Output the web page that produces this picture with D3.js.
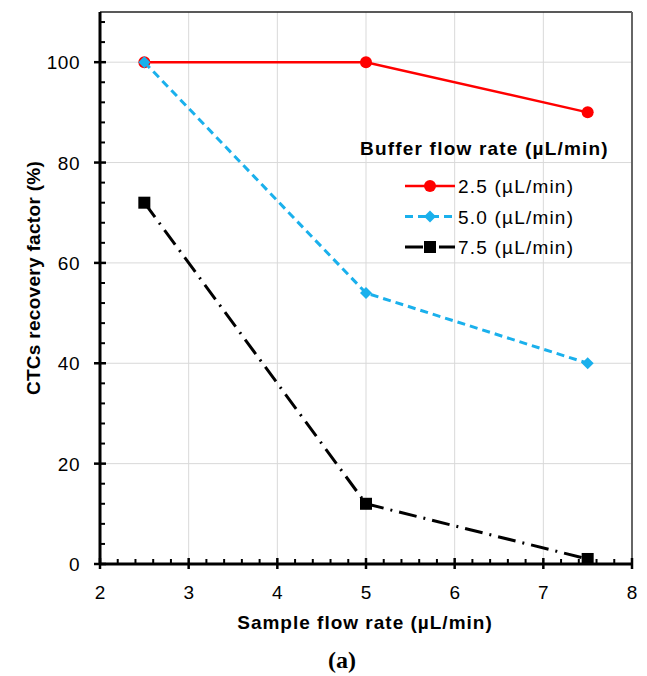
<!DOCTYPE html>
<html>
<head>
<meta charset="utf-8">
<script src="https://cdn.jsdelivr.net/npm/d3@7"></script>
<style>
  body { margin: 0; background: #fff; }
  text { font-family: Arial, "Liberation Sans", sans-serif; }
</style>
</head>
<body>
<div id="container"></div>
<script>
/* DATA */
const sampleFlow = [2.5, 5, 7.5]
const series = [
  { name: "2.5 (µL/min)", values: [100, 100, 90] },
  { name: "5.0 (µL/min)", values: [100, 54, 40] },
  { name: "7.5 (µL/min)", values: [72, 12, 1] }
]
const xTicks = [2, 3, 4, 5, 6, 7, 8]
const yTicks = [0, 20, 40, 60, 80, 100]

/* CONSTANTS */
const width = 647, height = 676
const margin = { top: 12, bottom: 112, left: 100, right: 15 }
const styles = [
  { color: "#ff0000", dash: null, width: 2.5, marker: "circle", size: 6 },
  { color: "#1ab0ec", dash: "8,5", width: 3, marker: "diamond", size: 6 },
  { color: "#000000", dash: "18,7,2,7", width: 3, marker: "square", size: 6 }
]

const svg = d3.select("#container")
  .append("svg")
  .attr("width", width)
  .attr("height", height)

// SCALES
const xScale = d3.scaleLinear()
  .domain([2, 8])
  .range([margin.left, width - margin.right])

const yScale = d3.scaleLinear()
  .domain([0, 110])
  .range([height - margin.bottom, margin.top])

// GRIDLINES
svg.append("g")
  .selectAll("line")
  .data(xTicks.slice(1, -1))
  .join("line")
  .attr("x1", d => xScale(d)).attr("x2", d => xScale(d))
  .attr("y1", yScale(0)).attr("y2", yScale(110))
  .attr("stroke", "#d9d9d9").attr("stroke-width", 1)

svg.append("g")
  .selectAll("line")
  .data(yTicks.slice(1))
  .join("line")
  .attr("x1", xScale(2)).attr("x2", xScale(8))
  .attr("y1", d => yScale(d)).attr("y2", d => yScale(d))
  .attr("stroke", "#d9d9d9").attr("stroke-width", 1)

// FRAME (top and right)
svg.append("line")
  .attr("x1", xScale(2)).attr("x2", xScale(8))
  .attr("y1", yScale(110)).attr("y2", yScale(110))
  .attr("stroke", "#222").attr("stroke-width", 1.5)
svg.append("line")
  .attr("x1", xScale(8)).attr("x2", xScale(8))
  .attr("y1", yScale(110)).attr("y2", yScale(0))
  .attr("stroke", "#666").attr("stroke-width", 2)

// AXES
const xMinor = d3.range(2, 8.001, 0.2).filter(v => Math.abs(v - Math.round(v)) > 0.01)
const yMinor = d3.range(0, 110.001, 4).filter(v => v % 20 !== 0)

const axisG = svg.append("g")
axisG.selectAll("line.xm")
  .data(xMinor)
  .join("line").attr("class", "xm")
  .attr("x1", d => xScale(d)).attr("x2", d => xScale(d))
  .attr("y1", yScale(0)).attr("y2", yScale(0) - 5)
  .attr("stroke", "#000").attr("stroke-width", 2)
axisG.selectAll("line.xM")
  .data(xTicks)
  .join("line").attr("class", "xM")
  .attr("x1", d => xScale(d)).attr("x2", d => xScale(d))
  .attr("y1", yScale(0) + 5).attr("y2", yScale(0) - 6)
  .attr("stroke", "#000").attr("stroke-width", 2.5)
axisG.selectAll("line.ym")
  .data(yMinor)
  .join("line").attr("class", "ym")
  .attr("x1", xScale(2)).attr("x2", xScale(2) + 5)
  .attr("y1", d => yScale(d)).attr("y2", d => yScale(d))
  .attr("stroke", "#000").attr("stroke-width", 2)
axisG.selectAll("line.yM")
  .data(yTicks)
  .join("line").attr("class", "yM")
  .attr("x1", xScale(2) - 6).attr("x2", xScale(2) + 6)
  .attr("y1", d => yScale(d)).attr("y2", d => yScale(d))
  .attr("stroke", "#000").attr("stroke-width", 2.5)

axisG.append("line")
  .attr("x1", xScale(2)).attr("x2", xScale(8))
  .attr("y1", yScale(0)).attr("y2", yScale(0))
  .attr("stroke", "#000").attr("stroke-width", 3)
axisG.append("line")
  .attr("x1", xScale(2)).attr("x2", xScale(2))
  .attr("y1", yScale(0)).attr("y2", yScale(110))
  .attr("stroke", "#000").attr("stroke-width", 3)

// TICK LABELS
axisG.selectAll("text.xl")
  .data(xTicks)
  .join("text").attr("class", "xl")
  .attr("x", d => xScale(d))
  .attr("y", yScale(0) + 35)
  .attr("text-anchor", "middle")
  .style("font-size", "19px")
  .text(d => d)
axisG.selectAll("text.yl")
  .data(yTicks)
  .join("text").attr("class", "yl")
  .attr("x", xScale(2) - 20)
  .attr("y", d => yScale(d) + 7)
  .attr("text-anchor", "end")
  .style("font-size", "19px")
  .style("letter-spacing", "0.5px")
  .text(d => d)

// LINES AND MARKERS
const lineGen = d3.line()
  .x(d => xScale(d[0]))
  .y(d => yScale(d[1]))

function drawMarker(g, type, color, x, y, s) {
  if (type === "circle") {
    g.append("circle").attr("cx", x).attr("cy", y).attr("r", s)
      .attr("fill", color)
  } else if (type === "diamond") {
    g.append("path")
      .attr("d", `M${x},${y - s}L${x + s},${y}L${x},${y + s}L${x - s},${y}Z`)
      .attr("fill", color)
  } else {
    g.append("rect").attr("x", x - s).attr("y", y - s)
      .attr("width", 2 * s).attr("height", 2 * s).attr("fill", color)
  }
}

series.forEach((s, i) => {
  const st = styles[i]
  const pts = sampleFlow.map((x, j) => [x, s.values[j]])
  svg.append("path")
    .datum(pts)
    .attr("d", lineGen)
    .attr("fill", "none")
    .attr("stroke", st.color)
    .attr("stroke-width", st.width)
    .attr("stroke-dasharray", st.dash)
  const g = svg.append("g")
  pts.forEach(p => drawMarker(g, st.marker, st.color, xScale(p[0]), yScale(p[1]), st.size))
})

// LEGEND
const legend = svg.append("g")
legend.append("text")
  .attr("x", 360).attr("y", 155)
  .style("font-size", "19px").style("font-weight", "bold")
  .style("letter-spacing", "1.2px")
  .text("Buffer flow rate (µL/min)")

series.forEach((s, i) => {
  const st = styles[i]
  const ly = 186 + i * 30.5
  legend.append("line")
    .attr("x1", 405).attr("x2", 455)
    .attr("y1", ly).attr("y2", ly)
    .attr("stroke", st.color)
    .attr("stroke-width", st.width)
    .attr("stroke-dasharray", st.dash)
  drawMarker(legend, st.marker, st.color, 430, ly, st.size)
  legend.append("text")
    .attr("x", 458).attr("y", ly + 7)
    .style("font-size", "19px")
    .style("letter-spacing", "1.2px")
    .text(s.name)
})

// AXIS TITLES
svg.append("text")
  .attr("x", 365)
  .attr("y", 629)
  .attr("text-anchor", "middle")
  .style("font-size", "19px").style("font-weight", "bold")
  .style("letter-spacing", "1px")
  .text("Sample flow rate (µL/min)")

svg.append("text")
  .attr("transform", "translate(40, 278) rotate(-90)")
  .attr("text-anchor", "middle")
  .style("font-size", "19px").style("font-weight", "bold")
  .style("letter-spacing", "0.3px")
  .text("CTCs recovery factor (%)")

svg.append("text")
  .attr("x", 342).attr("y", 668)
  .attr("text-anchor", "middle")
  .style("font-family", "'Liberation Serif', 'DejaVu Serif', serif")
  .style("font-size", "24px").style("font-weight", "bold")
  .text("(a)")
</script>
</body>
</html>
